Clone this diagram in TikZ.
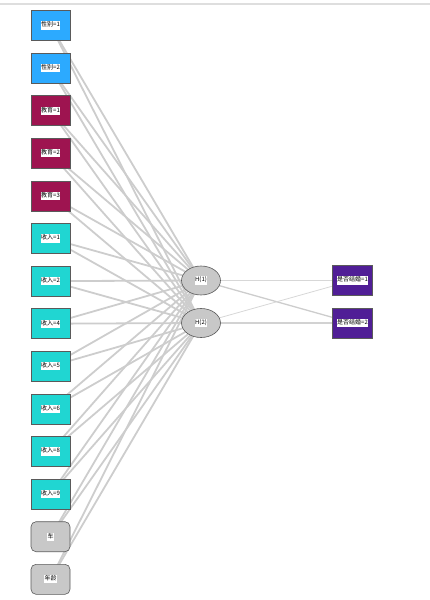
\documentclass[tikz,border=0pt]{standalone}
\usepackage{fontspec}
\setmainfont{Noto Sans CJK SC}
\usetikzlibrary{shapes.geometric,backgrounds}
\definecolor{cblue}{RGB}{44,170,255}
\definecolor{ccrim}{RGB}{158,20,80}
\definecolor{cturq}{RGB}{32,214,210}
\definecolor{cgrey}{RGB}{200,200,200}
\definecolor{cpurp}{RGB}{80,30,150}
\definecolor{cedge}{RGB}{205,205,205}
\definecolor{cbord}{RGB}{90,90,90}
\tikzset{
  box/.style={draw=cbord, line width=0.6pt, minimum width=39pt, minimum height=30pt, inner sep=0pt},
  rbox/.style={box, rounded corners=5pt, fill=cgrey},
  hid/.style={ellipse, draw=cbord, line width=0.6pt, fill=cgrey, minimum width=39pt, minimum height=29pt, inner sep=0pt},
  ih/.style={draw=cedge, line width=1.8pt},
  ho/.style={draw=cedge, line width=1pt},
}
\newcommand{\lab}[1]{{\setlength{\fboxsep}{0.6pt}\colorbox{white}{\fontsize{6}{7}\selectfont\strut #1}}}
\begin{document}
\begin{tikzpicture}[x=1pt,y=-1pt]
\useasboundingbox (0,0) rectangle (430,600);
\draw[cgrey!60, line width=1.5pt] (0,4) -- (430,4);
% inputs
\foreach \n/\t/\c [count=\i from 0] in {i1/性别=1/cblue, i2/性别=2/cblue, i3/教育=1/ccrim, i4/教育=2/ccrim, i5/教育=3/ccrim, i6/收入=1/cturq, i7/收入=2/cturq, i8/收入=4/cturq, i9/收入=5/cturq, i10/收入=6/cturq, i11/收入=8/cturq, i12/收入=9/cturq}
  \node[box, fill=\c] (\n) at (50.5,{25.5+42.6*\i}) {\lab{\t}};
\node[rbox] (i13) at (50.5,{25.5+42.6*12}) {\lab{车}};
\node[rbox] (i14) at (50.5,{25.5+42.6*13}) {\lab{年龄}};
% hidden
\node[hid] (h1) at (201,280.5) {\lab{H(1)}};
\node[hid] (h2) at (201,323) {\lab{H(2)}};
% outputs
\node[box, fill=cpurp, minimum width=40pt] (o1) at (352.5,280.5) {\lab{是否结婚=1}};
\node[box, fill=cpurp, minimum width=40pt] (o2) at (352.5,323) {\lab{是否结婚=2}};
\begin{scope}[on background layer]
\foreach \k in {1,...,14} {
  \draw[ih] (i\k.center) -- (h1.center);
  \draw[ih] (i\k.center) -- (h2.center);
}
\draw[ho, line width=0.8pt, cedge!80] (h1.center) -- (o1.center);
\draw[ho, line width=1.3pt] (h1.center) -- (o2.center);
\draw[ho, line width=0.8pt, cedge!80] (h2.center) -- (o1.center);
\draw[ho, line width=1.3pt, cedge!90] (h2.center) -- (o2.center);
\end{scope}
\end{tikzpicture}
\end{document}
